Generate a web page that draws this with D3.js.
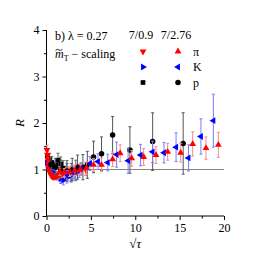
<!DOCTYPE html>
<html>
<head>
<meta charset="utf-8">
<script src="https://cdn.jsdelivr.net/npm/d3@7"></script>
<style>
  body { margin: 0; background: #fff; }
  svg { display: block; }
  svg text { font-family: "Times New Roman", Times, "Liberation Serif", serif; }
</style>
</head>
<body>
<div id="chart"></div>
<script>
// series rows: [sqrt(tau), R, error]
var piLow = [[0.05,1.42,0.1],[0.1,1.32,0.08],[0.15,1.22,0.08],[0.2,1.12,0.07],[0.25,1.05,0.07],[0.3,0.98,0.06],
  [0.4,0.93,0.06],[0.5,0.89,0.06],[0.6,0.86,0.05],[0.7,0.85,0.05],[0.8,0.84,0.05],[0.95,0.84,0.06],[1.1,0.85,0.06],
  [1.25,0.87,0.06],[1.4,0.88,0.07],[1.6,0.9,0.07],[1.8,0.92,0.08],[2.0,0.93,0.08],[2.25,0.95,0.09],[2.5,0.96,0.1],
  [2.8,0.97,0.1],[3.1,0.98,0.11],[3.5,0.99,0.12],[3.9,1.0,0.13],[4.4,1.01,0.14]];
var kLow = [[0.05,1.15,0.1],[0.15,1.08,0.08],[0.3,1.02,0.07],[0.5,0.97,0.07],[0.7,0.93,0.07],[0.9,0.9,0.08],
  [1.1,0.88,0.08],[1.3,0.86,0.09],[1.6,0.8,0.1],[1.9,0.77,0.1],[2.3,0.82,0.11],[2.7,0.87,0.12],[3.2,0.92,0.13],[3.7,0.97,0.14]];
var pLow = [[0.1,1.28,0.12],[0.35,1.22,0.12],[0.6,1.15,0.13],[0.8,1.05,0.13],[1.05,1.1,0.14],[1.3,1.2,0.15],
  [1.6,1.12,0.15],[1.9,1.03,0.16],[2.3,0.95,0.18],[2.8,0.93,0.2],[3.3,0.98,0.22]];
var piHigh = [[1.5,0.95,0.08],[2.0,0.93,0.09],[2.6,0.95,0.1],[3.2,0.98,0.11],[3.8,1.0,0.12],[4.5,1.03,0.13],
  [5.3,1.1,0.14],[6.2,1.1,0.15],[7.45,1.22,0.16],[8.3,1.35,0.18],[9.6,1.24,0.17],[10.95,1.27,0.18],[12.34,1.31,0.18],
  [13.65,1.38,0.18],[15.12,1.36,0.2],[16.47,1.55,0.26],[17.97,1.46,0.24],[19.36,1.53,0.27]];
var kHigh = [[2.3,0.88,0.1],[3.1,0.93,0.12],[3.9,1.02,0.13],[4.9,1.13,0.15],[5.8,1.17,0.17],[6.9,1.15,0.18],
  [7.9,1.32,0.27],[9.2,1.19,0.27],[10.6,1.31,0.23],[11.95,1.38,0.23],[13.24,1.36,0.22],[14.6,1.48,0.31],
  [16.0,1.25,0.28],[17.4,1.71,0.38],[18.8,2.05,0.57]];
var pHigh = [[0.5,1.1,0.15],[1.0,1.05,0.18],[1.6,1.0,0.2],[2.3,0.97,0.22],[2.9,1.0,0.24],[3.5,1.05,0.26],
  [4.1,1.05,0.27],[4.6,1.1,0.29],[5.3,1.27,0.34],[6.2,1.34,0.36],[7.45,1.74,0.4],[9.4,1.42,0.5],
  [11.96,1.6,0.62],[15.4,1.56,0.66]];

var xTicks = [0, 5, 10, 15, 20];
var yTicks = [0, 1, 2, 3, 4];
var legendHeads = ["7/0.9", "7/2.76"];
var legendLabels = ["\u03c0", "K", "p"];

var width = 260, height = 260;
var margin = { left: 46.5, top: 30, right: 36, bottom: 44 };
var serif = '"Times New Roman", Times, "Liberation Serif", serif';

var x = d3.scaleLinear().domain([0, 20]).range([margin.left, width - margin.right]);
var y = d3.scaleLinear().domain([0, 4]).range([height - margin.bottom, margin.top]);

var svg = d3.select("#chart").append("svg")
  .attr("width", width)
  .attr("height", height);

// reference line at R = 1
svg.append("line")
  .attr("x1", x(0)).attr("x2", x(20))
  .attr("y1", y(1)).attr("y2", y(1))
  .attr("stroke", "#888").attr("stroke-width", 1);

// axes
svg.append("g")
  .attr("transform", "translate(0," + y(0) + ")")
  .call(d3.axisBottom(x).tickValues(xTicks).tickFormat(d3.format("d")).tickSize(4).tickPadding(3));
svg.append("g")
  .attr("transform", "translate(0," + y(0) + ")")
  .call(d3.axisBottom(x).tickValues([2.5, 7.5, 12.5, 17.5]).tickSize(2.5).tickFormat(""));
svg.append("g")
  .attr("transform", "translate(" + x(0) + ",0)")
  .call(d3.axisLeft(y).tickValues(yTicks).tickFormat(d3.format("d")).tickSize(4).tickPadding(3));
svg.append("g")
  .attr("transform", "translate(" + x(0) + ",0)")
  .call(d3.axisLeft(y).tickValues([0.5, 1.5, 2.5, 3.5]).tickSize(2.5).tickFormat(""));
svg.selectAll(".domain").remove();
svg.selectAll("g").attr("font-family", serif);
svg.selectAll(".tick text").attr("font-size", 12).attr("fill", "#000");

svg.append("line").attr("x1", x(0)).attr("x2", x(20)).attr("y1", y(0)).attr("y2", y(0)).attr("stroke", "#000");
svg.append("line").attr("x1", x(0)).attr("x2", x(0)).attr("y1", y(0)).attr("y2", y(4)).attr("stroke", "#000");

// axis titles
svg.append("text")
  .attr("transform", "translate(24," + y(2) + ") rotate(-90)")
  .attr("text-anchor", "middle")
  .style("font-size", "13px").style("font-style", "italic")
  .text("R");
var xt = svg.append("text")
  .attr("x", x(10)).attr("y", 248)
  .attr("text-anchor", "middle")
  .style("font-size", "13px");
xt.append("tspan").text("\u221a");
xt.append("tspan").style("font-style", "italic").text("\u03c4");

function drawSeries(data, color, barColor, shape, rot) {
  var g = svg.append("g");
  g.selectAll("line.bar").data(data).enter().append("line")
    .attr("x1", d => x(d[0])).attr("x2", d => x(d[0]))
    .attr("y1", d => y(d[1] - d[2])).attr("y2", d => y(d[1] + d[2]))
    .attr("stroke", barColor).attr("stroke-width", 1);
  [-1, 1].forEach(function (s) {
    g.selectAll("line.cap" + s).data(data).enter().append("line")
      .attr("x1", d => x(d[0]) - 1.5).attr("x2", d => x(d[0]) + 1.5)
      .attr("y1", d => y(d[1] + s * d[2])).attr("y2", d => y(d[1] + s * d[2]))
      .attr("stroke", barColor).attr("stroke-width", 1);
  });
  var sym = d3.symbol().type(shape).size(shape === d3.symbolCircle ? 24 : shape === d3.symbolSquare ? 22 : 20);
  g.selectAll("path.pt").data(data).enter().append("path")
    .attr("d", sym)
    .attr("transform", d => "translate(" + x(d[0]) + "," + y(d[1]) + ") rotate(" + rot + ")")
    .attr("fill", color);
}

drawSeries(pLow, "#000", "#666", d3.symbolSquare, 0);
drawSeries(kLow, "#0000ff", "#7b7bff", d3.symbolTriangle, 90);
drawSeries(piLow, "#ff0000", "#f58a8a", d3.symbolTriangle, 180);
drawSeries(pHigh, "#000", "#555", d3.symbolCircle, 0);
drawSeries(kHigh, "#0000ff", "#7b7bff", d3.symbolTriangle, -90);
drawSeries(piHigh, "#ff0000", "#f58a8a", d3.symbolTriangle, 0);

// annotation
svg.append("text").attr("x", 55).attr("y", 40).style("font-size", "12px")
  .text("b) \u03bb = 0.27");
var m = svg.append("text").attr("x", 55).attr("y", 58).style("font-size", "12px");
m.append("tspan").style("font-style", "italic").text("m");
m.append("tspan").attr("dy", 3).style("font-size", "8px").text("T");
m.append("tspan").attr("dy", -3).text(" \u2212 scaling");
// tilde over the m
svg.append("path")
  .attr("d", "M55.5,50.5 q1.7,-2 3.5,-0.6 q1.8,1.4 3.5,-0.6")
  .attr("fill", "none").attr("stroke", "#000").attr("stroke-width", 0.8);

// legend
var colX = [141, 176];
legendHeads.forEach(function (h, i) {
  svg.append("text").attr("x", colX[i]).attr("y", 39).attr("text-anchor", "middle")
    .style("font-size", "12px").text(h);
});
var legendRows = [
  { c: "#ff0000", shapes: [[d3.symbolTriangle, 180], [d3.symbolTriangle, 0]] },
  { c: "#0000ff", shapes: [[d3.symbolTriangle, 90], [d3.symbolTriangle, -90]] },
  { c: "#000", shapes: [[d3.symbolSquare, 0], [d3.symbolCircle, 0]] }
];
var rowY = [51.5, 67, 82.5];
legendRows.forEach(function (r, j) {
  r.shapes.forEach(function (s, i) {
    svg.append("path")
      .attr("d", d3.symbol().type(s[0]).size(s[0] === d3.symbolCircle ? 24 : s[0] === d3.symbolSquare ? 22 : 20))
      .attr("transform", "translate(" + (colX[i] + 2) + "," + rowY[j] + ") rotate(" + s[1] + ")")
      .attr("fill", r.c);
  });
  svg.append("text").attr("x", 193).attr("y", rowY[j] + 4).style("font-size", "12px").text(legendLabels[j]);
});
</script>
</body>
</html>
